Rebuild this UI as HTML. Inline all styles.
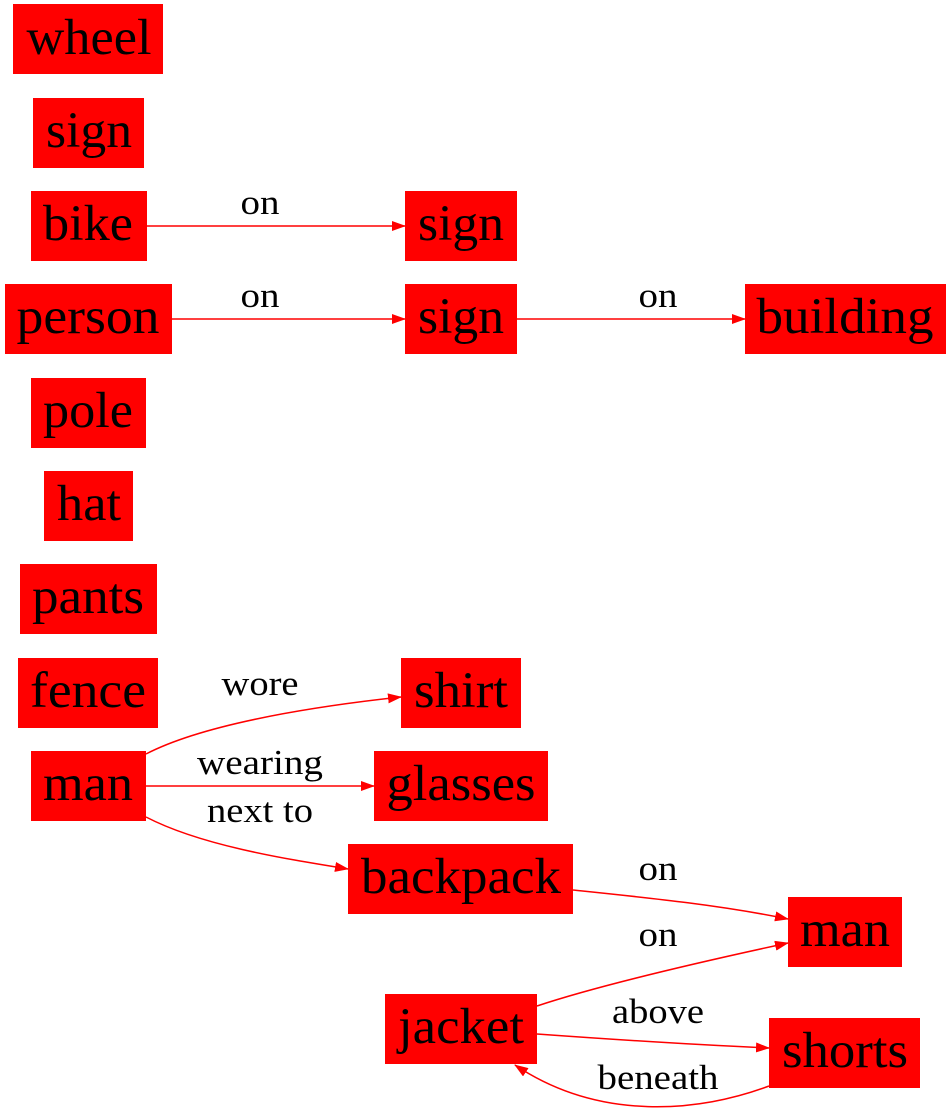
<!DOCTYPE html>
<html><head><meta charset="utf-8"><style>
html,body{margin:0;padding:0;background:#fff;}
svg{display:block;}
.n{fill:#f00;}
.t{font-family:"Liberation Serif",serif;font-size:51px;fill:#000;text-anchor:middle;}
.l{font-family:"Liberation Serif",serif;font-size:35px;fill:#000;text-anchor:middle;}
.e{fill:none;stroke:#f00;stroke-width:1.5;}
</style></head><body>
<svg width="951" height="1117" viewBox="0 0 951 1117">
<defs><marker id="a" markerWidth="14" markerHeight="10" refX="13" refY="5" orient="auto" markerUnits="userSpaceOnUse"><path d="M0,0 L14,5 L0,10 z" fill="#f00"/></marker></defs>
<g><rect class="n" x="13" y="4" width="150" height="70"/><text class="t" x="89" y="54" textLength="125" lengthAdjust="spacingAndGlyphs">wheel</text></g>
<g><rect class="n" x="33" y="98" width="111" height="70"/><text class="t" x="89" y="147" textLength="86" lengthAdjust="spacingAndGlyphs">sign</text></g>
<g><rect class="n" x="31" y="191" width="116" height="70"/><text class="t" x="88" y="240" textLength="90" lengthAdjust="spacingAndGlyphs">bike</text></g>
<g><rect class="n" x="405" y="191" width="112" height="70"/><text class="t" x="461" y="240" textLength="86" lengthAdjust="spacingAndGlyphs">sign</text></g>
<g><rect class="n" x="5" y="284" width="167" height="70"/><text class="t" x="88" y="333" textLength="143" lengthAdjust="spacingAndGlyphs">person</text></g>
<g><rect class="n" x="405" y="284" width="112" height="70"/><text class="t" x="461" y="333" textLength="86" lengthAdjust="spacingAndGlyphs">sign</text></g>
<g><rect class="n" x="745" y="284" width="201" height="70"/><text class="t" x="845" y="333" textLength="177" lengthAdjust="spacingAndGlyphs">building</text></g>
<g><rect class="n" x="31" y="378" width="115" height="70"/><text class="t" x="88" y="427" textLength="90" lengthAdjust="spacingAndGlyphs">pole</text></g>
<g><rect class="n" x="44" y="471" width="89" height="70"/><text class="t" x="89" y="520" textLength="64" lengthAdjust="spacingAndGlyphs">hat</text></g>
<g><rect class="n" x="20" y="564" width="137" height="70"/><text class="t" x="88" y="613" textLength="112" lengthAdjust="spacingAndGlyphs">pants</text></g>
<g><rect class="n" x="18" y="658" width="140" height="70"/><text class="t" x="88" y="707" textLength="116" lengthAdjust="spacingAndGlyphs">fence</text></g>
<g><rect class="n" x="401" y="658" width="120" height="70"/><text class="t" x="461" y="707" textLength="94" lengthAdjust="spacingAndGlyphs">shirt</text></g>
<g><rect class="n" x="31" y="751" width="115" height="70"/><text class="t" x="88" y="800" textLength="90" lengthAdjust="spacingAndGlyphs">man</text></g>
<g><rect class="n" x="374" y="751" width="174" height="70"/><text class="t" x="461" y="800" textLength="149" lengthAdjust="spacingAndGlyphs">glasses</text></g>
<g><rect class="n" x="348" y="844" width="225" height="70"/><text class="t" x="461" y="893" textLength="200" lengthAdjust="spacingAndGlyphs">backpack</text></g>
<g><rect class="n" x="788" y="897" width="114" height="70"/><text class="t" x="845" y="946" textLength="90" lengthAdjust="spacingAndGlyphs">man</text></g>
<g><rect class="n" x="385" y="994" width="152" height="70"/><text class="t" x="461" y="1043" textLength="126" lengthAdjust="spacingAndGlyphs">jacket</text></g>
<g><rect class="n" x="769" y="1018" width="151" height="70"/><text class="t" x="845" y="1067" textLength="126" lengthAdjust="spacingAndGlyphs">shorts</text></g>

<g><path class="e" marker-end="url(#a)" d="M147,226 L405,226"/><text class="l" x="260" y="214" textLength="39" lengthAdjust="spacingAndGlyphs">on</text></g>
<g><path class="e" marker-end="url(#a)" d="M172,319 L405,319"/><text class="l" x="260" y="307" textLength="39" lengthAdjust="spacingAndGlyphs">on</text></g>
<g><path class="e" marker-end="url(#a)" d="M517,319 L745,319"/><text class="l" x="658" y="307" textLength="39" lengthAdjust="spacingAndGlyphs">on</text></g>
<g><path class="e" marker-end="url(#a)" d="M146,754 C200,726 300,708 401,697"/><text class="l" x="260" y="695" textLength="77" lengthAdjust="spacingAndGlyphs">wore</text></g>
<g><path class="e" marker-end="url(#a)" d="M146,786 L374,786"/><text class="l" x="260" y="774" textLength="126" lengthAdjust="spacingAndGlyphs">wearing</text></g>
<g><path class="e" marker-end="url(#a)" d="M146,817 C200,845 280,858 348,869"/><text class="l" x="260" y="822" textLength="106" lengthAdjust="spacingAndGlyphs">next to</text></g>
<g><path class="e" marker-end="url(#a)" d="M573,890 C650,898 720,905 788,919"/><text class="l" x="658" y="880" textLength="39" lengthAdjust="spacingAndGlyphs">on</text></g>
<g><path class="e" marker-end="url(#a)" d="M537,1006 C600,985 700,962 788,943"/><text class="l" x="658" y="946" textLength="39" lengthAdjust="spacingAndGlyphs">on</text></g>
<g><path class="e" marker-end="url(#a)" d="M537,1034 C620,1040 700,1045 769,1048"/><text class="l" x="658" y="1023" textLength="92" lengthAdjust="spacingAndGlyphs">above</text></g>
<g><path class="e" marker-end="url(#a)" d="M769,1086 C700,1112 600,1122 515,1065"/><text class="l" x="658" y="1089" textLength="121" lengthAdjust="spacingAndGlyphs">beneath</text></g>
</svg>
</body></html>
